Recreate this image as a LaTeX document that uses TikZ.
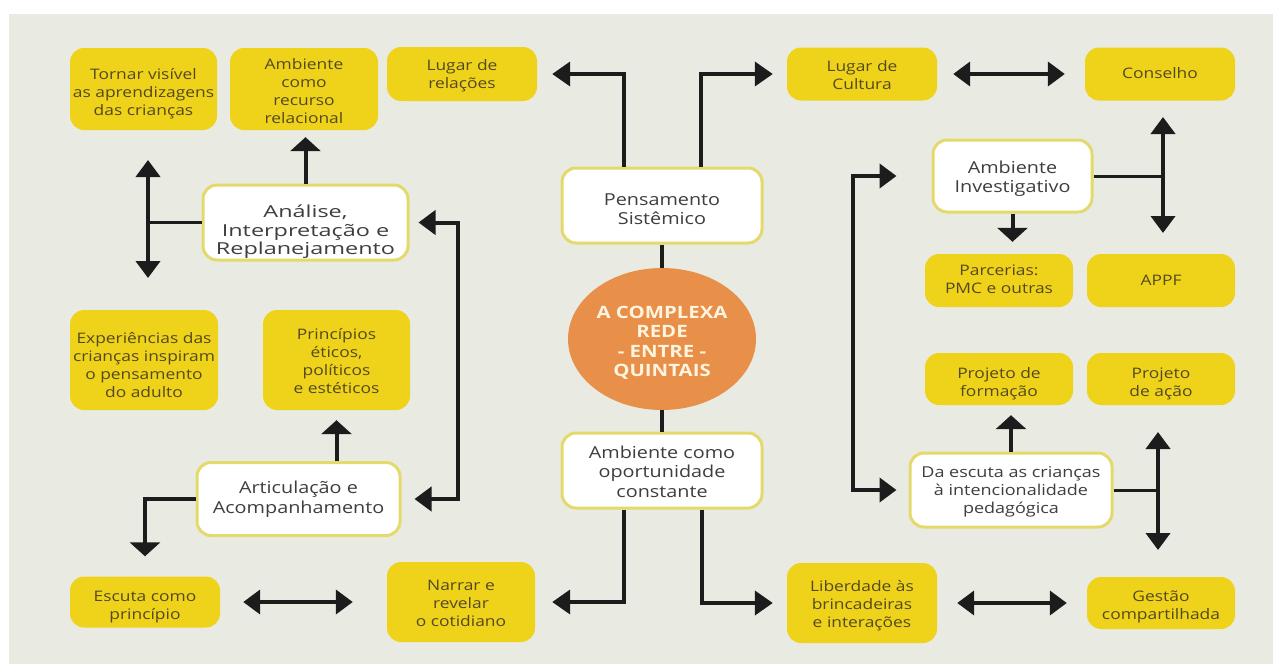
\documentclass[tikz,border=0pt]{standalone}
\usepackage{fontspec}
\setmainfont{Open Sans}[FakeStretch=1.2]
\newfontfamily\widefont{Open Sans}[FakeStretch=1.42]
\usetikzlibrary{arrows.meta,shapes.geometric}
\definecolor{bgc}{HTML}{E9EBE3}
\definecolor{yel}{HTML}{EFD31B}
\definecolor{ytext}{HTML}{54491F}
\definecolor{wborder}{HTML}{E4DA6C}
\definecolor{wtext}{HTML}{3E3E3E}
\definecolor{orng}{HTML}{E88F4A}
\definecolor{ctext}{HTML}{FFF4DE}
\definecolor{ink}{HTML}{1C1C1C}
\tikzset{
  ybox/.style={rounded corners=14pt, fill=yel, inner sep=0pt},
  wbox/.style={rounded corners=14pt, fill=white, draw=wborder, line width=3pt, inner sep=0pt},
  ytxt/.style={text=ytext, align=center, inner sep=0pt, font=\fontsize{14.5}{18}\selectfont},
  wtxt/.style={text=wtext, align=center, inner sep=0pt, font=\fontsize{16.5}{19.5}\selectfont},
  conn/.style={draw=ink, line width=4pt},
  thinconn/.style={draw=ink, line width=3pt},
  arr/.style={conn, -{Triangle[width=24pt,length=18pt]}},
  sarr/.style={conn, -{Triangle[width=30pt,length=14pt]}},
  darr/.style={conn, {Triangle[width=24pt,length=17pt]}-{Triangle[width=24pt,length=17pt]}},
}
\begin{document}
\begin{tikzpicture}[x=1pt,y=-1pt]
\useasboundingbox (0,0) rectangle (1273,664);
\fill[white] (0,0) rectangle (1273,664);
\fill[bgc] (9,14) rectangle (1273,664);

% yellow boxes
\node[ybox, minimum width=147pt, minimum height=82pt] (tornar) at (143.5,89) {};
\node[ybox, minimum width=148pt, minimum height=82pt] (ambrec) at (304,89) {};
\node[ybox, minimum width=150pt, minimum height=54pt] (lugrel) at (462,74) {};
\node[ybox, minimum width=150pt, minimum height=53pt] (lugcul) at (862,74) {};
\node[ybox, minimum width=150pt, minimum height=53pt] (conselho) at (1160,74) {};
\node[ybox, minimum width=148pt, minimum height=53pt] (parc) at (999,280.5) {};
\node[ybox, minimum width=148pt, minimum height=53pt] (appf) at (1161,280.5) {};
\node[ybox, minimum width=148pt, minimum height=100pt] (exper) at (144,360) {};
\node[ybox, minimum width=147pt, minimum height=100pt] (princ) at (336.5,360) {};
\node[ybox, minimum width=148pt, minimum height=52pt] (projform) at (999,379) {};
\node[ybox, minimum width=148pt, minimum height=52pt] (projacao) at (1161,379) {};
\node[ybox, minimum width=150pt, minimum height=51pt] (escuta) at (145,602) {};
\node[ybox, minimum width=148pt, minimum height=80pt] (narrar) at (461,602) {};
\node[ybox, minimum width=150pt, minimum height=80pt] (liber) at (862,603) {};
\node[ybox, minimum width=148pt, minimum height=52pt] (gestao) at (1161,603) {};

\node[ytxt] (tornar-t) at ([yshift=-5pt]tornar.center) {Tornar visível\\as aprendizagens\\das crianças};
\node[ytxt] (ambrec-t) at ([yshift=-2.5pt]ambrec.center) {Ambiente\\como\\recurso\\relacional};
\node[ytxt] (lugrel-t) at ([yshift=-2pt]lugrel.center) {Lugar de\\relações};
\node[ytxt] (lugcul-t) at ([yshift=-1pt]lugcul.center) {Lugar de\\Cultura};
\node[ytxt] (conselho-t) at ([yshift=1pt]conselho.center) {Conselho};
\node[ytxt] (parc-t) at ([yshift=1.5pt]parc.center) {Parcerias:\\PMC e outras};
\node[ytxt] (appf-t) at (appf.center) {APPF};
\node[ytxt] (exper-t) at ([yshift=-5pt]exper.center) {Experiências das\\crianças inspiram\\o pensamento\\do adulto};
\node[ytxt] (princ-t) at ([yshift=-1.5pt]princ.center) {Princípios\\éticos,\\políticos\\e estéticos};
\node[ytxt] (projform-t) at ([yshift=-5pt]projform.center) {Projeto de\\formação};
\node[ytxt] (projacao-t) at ([yshift=-5pt]projacao.center) {Projeto\\de ação};
\node[ytxt] (escuta-t) at ([yshift=-5pt]escuta.center) {Escuta como\\princípio};
\node[ytxt] (narrar-t) at ([yshift=-1pt]narrar.center) {Narrar e\\revelar\\o cotidiano};
\node[ytxt] (liber-t) at ([yshift=-3pt]liber.center) {Liberdade às\\brincadeiras\\e interações};
\node[ytxt] (gestao-t) at ([yshift=-4pt]gestao.center) {Gestão\\compartilhada};

% white boxes
\node[wbox, minimum width=205pt, minimum height=75pt] (analise) at (305.5,222.5) {};
\node[wbox, minimum width=200pt, minimum height=75pt] (pens) at (662,205.5) {};
\node[wbox, minimum width=159pt, minimum height=72pt] (ambinv) at (1012.5,176) {};
\node[wbox, minimum width=203pt, minimum height=73pt] (articul) at (298.5,499) {};
\node[wbox, minimum width=200pt, minimum height=75pt] (ambop) at (662,470.5) {};
\node[wbox, minimum width=202pt, minimum height=74pt] (daesc) at (1011,490) {};

\node[wtxt, font=\fontsize{16.5}{18.5}\widefont] (analise-t) at ([yshift=-9.5pt]analise.center) {Análise,\\Interpretação e\\Replanejamento};
\node[wtxt] (pens-t) at ([yshift=-3.5pt]pens.center) {Pensamento\\Sistêmico};
\node[wtxt] (ambinv-t) at ([yshift=-2.5pt]ambinv.center) {Ambiente\\Investigativo};
\node[wtxt] (articul-t) at (articul.center) {Articulação e\\Acompanhamento};
\node[wtxt] (ambop-t) at ([yshift=-1pt]ambop.center) {Ambiente como\\oportunidade\\constante};
\node[wtxt, font=\fontsize{15}{18}\selectfont] (daesc-t) at ([yshift=-1.5pt]daesc.center) {Da escuta as crianças\\à intencionalidade\\pedagógica};

% central ellipse
\node[ellipse, fill=orng, minimum width=188pt, minimum height=142pt, inner sep=0pt] (circ) at (662,339) {};
\node[text=ctext, align=center, inner sep=0pt, font=\fontsize{17}{19.5}\selectfont\bfseries]
  (circ-t) at ([yshift=-4pt]circ.center) {A COMPLEXA\\REDE\\- ENTRE -\\QUINTAIS};

% helper coordinates
\coordinate (abT) at (148,160);
\coordinate (abB) at (148,278);
\coordinate (ab) at (148,222.5);
\coordinate (lr) at (458,0);
\coordinate (lv) at (853,0);
\coordinate (rbT) at (1163,117);
\coordinate (rbB) at (1163,233);
\coordinate (rb) at (1163,176);
\coordinate (dbT) at (1158,432);
\coordinate (dbB) at (1158,550);
\coordinate (db) at (1158,490);

% connectors: centre column
\draw[conn] (pens) -- (circ);
\draw[conn] (circ) -- (ambop);
\draw[arr] ([xshift=-38pt]pens.north) |- ([xshift=15pt]lugrel.east);
\draw[arr] ([xshift=39pt]pens.north) |- ([xshift=-14pt]lugcul.west);
\draw[arr] ([xshift=-38pt]ambop.south) |- ([xshift=17pt]narrar.east);
\draw[arr] ([xshift=40pt]ambop.south) |- ([xshift=-14pt]liber.west);
\draw[darr] ([xshift=16pt]lugcul.east) -- ([xshift=-20pt]conselho.west);
\draw[darr] ([xshift=20pt]liber.east) -- ([xshift=-20pt]gestao.west);
\draw[darr] ([xshift=23pt]escuta.east) -- ([xshift=-34pt]narrar.west);

% left side
\draw[sarr, shorten >=7pt] (analise.north) -- (analise.north |- ambrec.south);
\draw[thinconn] (analise.west) -- (ab);
\draw[darr] (abT) -- (abB);
\draw[darr, line join=miter] ([xshift=9pt]analise.east) -| (lr |- articul.east) -- ([xshift=13pt]articul.east);
\draw[sarr, shorten >=10pt] (princ.south |- articul.north) -- (princ.south);
\draw[sarr, shorten >=20pt, line join=miter] (articul.west) -| (escuta.north);

% right side
\draw[sarr, shorten >=12pt] (ambinv.south) -- (ambinv.south |- parc.north);
\draw[thinconn] (ambinv.east) -- (rb);
\draw[darr] (rbT) -- (rbB);
\draw[darr, line join=miter] ([xshift=-35pt]ambinv.west) -| (lv |- daesc.west) -- ([xshift=-12pt]daesc.west);
\draw[sarr, shorten >=10pt] (daesc.north) -- (daesc.north |- projform.south);
\draw[thinconn] (daesc.east) -- (db);
\draw[darr] (dbT) -- (dbB);
\end{tikzpicture}
\end{document}
